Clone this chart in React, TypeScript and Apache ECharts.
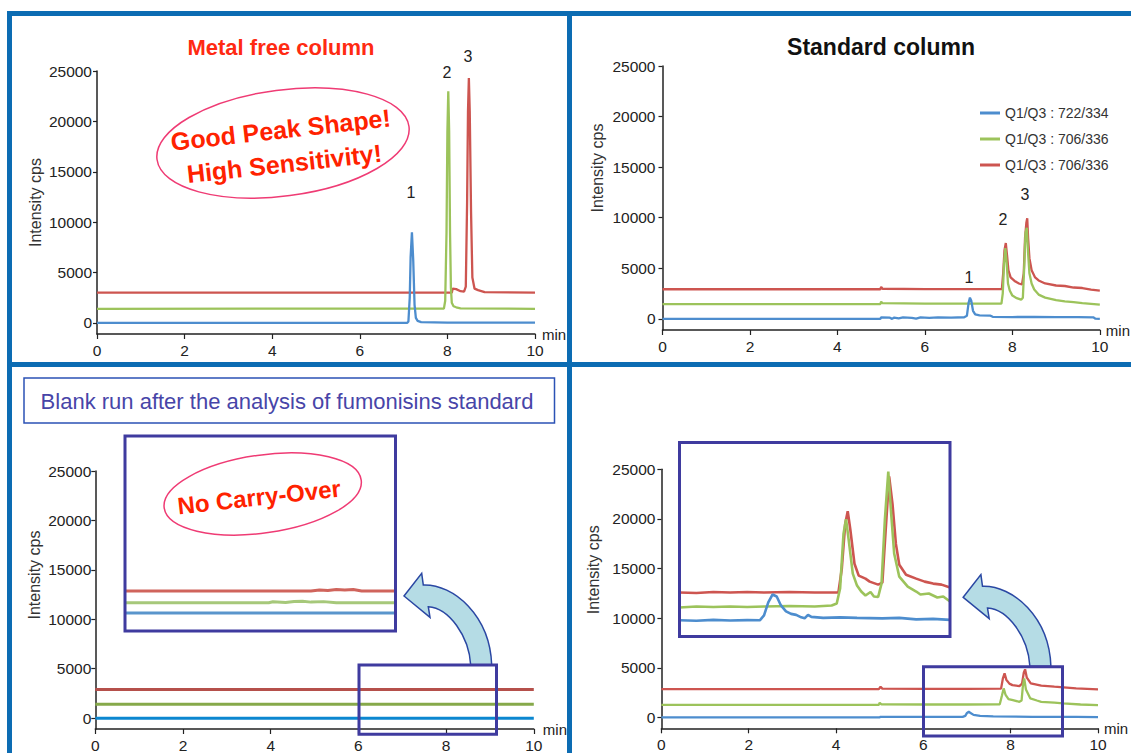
import React, { useEffect, useRef } from "react";
import * as echarts from "echarts";

// ---------- tick / label arrays ----------
const TIME_TICKS = [0, 2, 4, 6, 8, 10];
const INTENSITY_TICKS = [0, 5000, 10000, 15000, 20000, 25000];
const LEGEND_LABELS = ["Q1/Q3 : 722/334", "Q1/Q3 : 706/336", "Q1/Q3 : 706/336"];
const LEGEND_SERIES = ["Standard 1", "Standard 2", "Standard 3"];

// ---------- Metal free column (top-left) ----------
const metalFreeBlue = [[0, 0], [5, 0], [7.08, 0], [7.11, 150], [7.14, 2500], [7.16, 6500], [7.19, 9000], [7.22, 6200], [7.25, 1800], [7.28, 500], [7.32, 200], [7.4, 80], [8, 30], [10, 20]];
const metalFreeGreen = [[0, 1400], [7.92, 1420], [7.95, 2200], [7.98, 9000], [8.0, 19000], [8.02, 23000], [8.04, 19000], [8.06, 9000], [8.08, 3500], [8.1, 2000], [8.14, 1650], [8.2, 1550], [8.3, 1450], [10, 1400]];
const metalFreeRed = [[0, 3000], [8.1, 3000], [8.12, 3400], [8.2, 3350], [8.3, 3150], [8.38, 3100], [8.42, 3600], [8.45, 12000], [8.47, 21000], [8.49, 24300], [8.51, 21000], [8.54, 11000], [8.57, 4500], [8.62, 3400], [8.7, 3250], [8.85, 3050], [10, 3000]];

// ---------- Standard column (top-right) ----------
const standardBlue = [[0, 0], [4.98, 0], [5.0, 150], [5.2, 120], [5.25, 0], [5.3, 130], [5.4, 60], [5.5, 150], [5.7, 100], [5.8, 20], [5.9, 140], [6.1, 100], [6.3, 150], [6.6, 130], [6.9, 160], [6.96, 300], [7.0, 1600], [7.03, 2100], [7.06, 1800], [7.1, 800], [7.15, 450], [7.25, 350], [7.5, 320], [7.55, 200], [8, 180], [8.5, 200], [9, 180], [9.5, 170], [9.85, 150], [9.9, 20], [10, 0]];
const standardGreen = [[0, 1450], [4.98, 1450], [5.0, 1700], [5.03, 1550], [6, 1500], [7, 1500], [7.75, 1500], [7.78, 2500], [7.81, 5500], [7.84, 7000], [7.87, 5500], [7.9, 3500], [7.94, 2800], [8.0, 2300], [8.1, 2050], [8.2, 1900], [8.24, 2100], [8.27, 5000], [8.3, 8500], [8.33, 9000], [8.36, 6500], [8.39, 4500], [8.44, 3500], [8.5, 2900], [8.6, 2400], [8.75, 2100], [9.0, 1850], [9.2, 1720], [9.4, 1650], [9.6, 1560], [9.8, 1480], [10, 1400]];
const standardRed = [[0, 2930], [4.98, 2930], [5.0, 3150], [5.03, 2980], [6, 2950], [7, 2950], [7.76, 2950], [7.79, 4500], [7.82, 6800], [7.85, 7500], [7.88, 6200], [7.91, 4800], [7.96, 4100], [8.05, 3750], [8.15, 3500], [8.22, 3400], [8.26, 4500], [8.29, 8000], [8.32, 9500], [8.34, 9950], [8.36, 8000], [8.39, 6000], [8.44, 4800], [8.52, 4100], [8.6, 3800], [8.75, 3500], [9.0, 3300], [9.2, 3250], [9.4, 3100], [9.6, 3050], [9.8, 2900], [10, 2800]];

// ---------- Blank run, metal free (bottom-left) ----------
const blankBlue = [[0, 0], [10, 0]];
const blankGreen = [[0, 1400], [10, 1400]];
const blankRed = [[0, 2900], [10, 2900]];
const blankInsetBlue = [[6, 10690], [9.2, 10690]];
const blankInsetGreen = [[6, 11730], [7.7, 11730], [7.75, 11830], [7.9, 11760], [8.0, 11850], [8.1, 11880], [8.2, 11790], [8.35, 11840], [8.5, 11730], [9.2, 11730]];
const blankInsetRed = [[6, 12910], [8.2, 12910], [8.3, 13010], [8.4, 12960], [8.5, 13060], [8.6, 13010], [8.7, 13060], [8.8, 12910], [9.2, 12910]];

// ---------- Blank run, standard column (bottom-right) ----------
const blankStdBlue = [[0, 0], [5, 0], [5.02, 60], [6.9, 50], [6.96, 150], [7.0, 450], [7.04, 560], [7.08, 450], [7.15, 250], [7.3, 150], [7.6, 100], [8.5, 60], [9.5, 50], [10, 30]];
const blankStdGreen = [[0, 1270], [4.98, 1270], [5.0, 1470], [5.04, 1320], [6, 1300], [7, 1300], [7.75, 1320], [7.8, 2200], [7.84, 2920], [7.88, 2300], [7.95, 1850], [8.05, 1740], [8.2, 1570], [8.25, 1700], [8.28, 3200], [8.31, 3930], [8.35, 2800], [8.45, 1910], [8.6, 1700], [8.7, 1570], [9.0, 1480], [9.2, 1410], [9.6, 1300], [10, 1240]];
const blankStdRed = [[0, 2850], [4.98, 2850], [5.02, 3090], [5.06, 2900], [6, 2880], [7, 2880], [7.78, 2900], [7.82, 3900], [7.86, 4430], [7.9, 3800], [7.97, 3400], [8.04, 3250], [8.2, 3150], [8.26, 3400], [8.3, 4500], [8.33, 4840], [8.37, 4000], [8.46, 3430], [8.7, 3200], [9.0, 3090], [9.5, 2920], [10, 2820]];
const blankStdInsetBlue = [[6, 9800], [6.2, 9750], [6.4, 9850], [6.6, 9780], [6.8, 9820], [6.95, 9800], [7.0, 10300], [7.05, 11600], [7.1, 12400], [7.15, 12200], [7.2, 11300], [7.26, 10700], [7.32, 10450], [7.38, 10350], [7.44, 10100], [7.48, 10000], [7.52, 10350], [7.56, 10150], [7.7, 10050], [7.9, 10100], [8.1, 10050], [8.4, 10000], [8.6, 10050], [8.8, 9900], [9.0, 9950], [9.2, 9850]];
const blankStdInsetGreen = [[6, 11100], [6.2, 11200], [6.4, 11150], [6.6, 11200], [6.8, 11150], [7.0, 11200], [7.3, 11250], [7.6, 11200], [7.8, 11300], [7.86, 11500], [7.9, 13000], [7.94, 18500], [7.97, 20000], [8.0, 18000], [8.05, 14500], [8.1, 13300], [8.15, 12700], [8.2, 12300], [8.26, 12650], [8.3, 12200], [8.35, 12150], [8.39, 13500], [8.43, 20000], [8.47, 24800], [8.5, 21000], [8.54, 16500], [8.6, 14200], [8.7, 13200], [8.8, 12700], [8.85, 12400], [8.95, 12500], [9.05, 12100], [9.12, 12200], [9.2, 11700]];
const blankStdInsetRed = [[6, 12600], [6.2, 12550], [6.4, 12650], [6.6, 12600], [6.8, 12650], [7.0, 12600], [7.3, 12650], [7.6, 12600], [7.88, 12600], [7.92, 15000], [7.96, 19500], [7.99, 20800], [8.02, 19000], [8.07, 15500], [8.12, 14300], [8.2, 14000], [8.25, 13700], [8.35, 13400], [8.4, 13600], [8.44, 19000], [8.48, 24300], [8.52, 21500], [8.56, 17500], [8.6, 15400], [8.68, 14400], [8.8, 14000], [8.9, 13700], [9.0, 13500], [9.1, 13400], [9.2, 13100]];

// ---------- styling ----------
const FONT = '"Liberation Sans", Arial, sans-serif';
const BLUE = "#4d8dce";
const GREEN = "#9cc35b";
const RED = "#cd5550";
const BORDER = "#0c6cb3";
const INDIGO = "#3f3b9f";

const ARROW_PATH =
  "M0 0 L17.7 -22.7 L19.3 -11 C50 -12 86 20 87.7 69 L66.7 69 C65 40 45 12 24.3 10.7 L26 21.3 Z";
echarts.graphic.registerShape("curvedArrow", echarts.graphic.extendPath(ARROW_PATH, {}));

const plain = (v: number) => String(v);

function mainX(gridIndex: number, nameGap: number, nameShift: number) {
  return {
    type: "value",
    gridIndex,
    min: 0,
    max: 10,
    interval: 2,
    name: "min",
    nameLocation: "end",
    nameGap,
    nameTextStyle: { fontSize: 15, fontFamily: FONT, color: "#222", padding: [nameShift * 2, 0, 0, 0], verticalAlign: "middle" },
    axisLine: { show: true, onZero: false, lineStyle: { color: "#222", width: 1.5 } },
    axisTick: { show: true, length: 5, lineStyle: { color: "#222", width: 1.2 }, customValues: TIME_TICKS },
    axisLabel: { fontSize: 15.5, fontFamily: FONT, color: "#222", margin: 8, customValues: TIME_TICKS, formatter: plain },
    splitLine: { show: false },
  };
}

function mainY(gridIndex: number, labelMargin: number, nameGap: number, nameUp: number) {
  return {
    type: "value",
    gridIndex,
    min: -1100,
    max: 25000,
    name: "Intensity cps",
    nameLocation: "middle",
    nameGap,
    nameTextStyle: { fontSize: 16, fontFamily: FONT, color: "#333", padding: [0, 0, 0, nameUp * 2] },
    axisLine: { show: true, lineStyle: { color: "#222", width: 1.5 } },
    axisTick: { show: true, length: 4, lineStyle: { color: "#222", width: 1.2 }, customValues: INTENSITY_TICKS },
    axisLabel: { fontSize: 15.5, fontFamily: FONT, color: "#222", margin: labelMargin, customValues: INTENSITY_TICKS, formatter: plain },
    splitLine: { show: false },
  };
}

function insetX(gridIndex: number) {
  return { type: "value", gridIndex, min: 6, max: 9.2, show: false };
}
function insetY(gridIndex: number, min: number, max: number) {
  return { type: "value", gridIndex, min, max, show: false };
}

function line(name: string, data: number[][], color: string, width: number, axis: number) {
  return {
    type: "line",
    name,
    data,
    xAxisIndex: axis,
    yAxisIndex: axis,
    showSymbol: false,
    symbol: "none",
    silent: true,
    lineStyle: { color, width },
    itemStyle: { color },
  };
}

function txt(text: string, x: number, y: number, size: number, color: string, weight = "normal", rotation = 0) {
  return {
    type: "text",
    x,
    y,
    rotation,
    z: 100,
    style: { text, fill: color, fontSize: size, fontFamily: FONT, fontWeight: weight, align: "center", verticalAlign: "middle" },
  };
}

function rect(x: number, y: number, w: number, h: number, stroke: string, lw: number) {
  return { type: "rect", z: 100, shape: { x, y, width: w, height: h }, style: { fill: "none", stroke, lineWidth: lw } };
}

function border(x1: number, y1: number, x2: number, y2: number) {
  return { type: "line", z: 110, shape: { x1, y1, x2, y2 }, style: { stroke: BORDER, lineWidth: 5 } };
}

export default function App() {
  const ref = useRef<HTMLDivElement>(null);

  useEffect(() => {
    document.body.style.margin = "0";
    const chart = echarts.init(ref.current!, null, { renderer: "svg" });

    const option = {
      animation: false,
      backgroundColor: "#ffffff",
      textStyle: { fontFamily: FONT },
      grid: [
        { left: 97, top: 71, width: 438, height: 263 },
        { left: 662.5, top: 66, width: 437.5, height: 264 },
        { left: 95.3, top: 471, width: 438.5, height: 259 },
        { left: 661.4, top: 469.3, width: 436.6, height: 259 },
        { left: 125, top: 436, width: 270.5, height: 195 },
        { left: 679.5, top: 442.5, width: 270.5, height: 194 },
      ],
      xAxis: [mainX(0, 7, 6), mainX(1, 6, 3), mainX(2, 9, 5), mainX(3, 6, 3), insetX(4), insetX(5)],
      yAxis: [
        mainY(0, 5, 54, 0),
        mainY(1, 7, 57, 30),
        mainY(2, 4, 53, 25),
        mainY(3, 6, 60, 29),
        insetY(4, 8880, 28530),
        insetY(5, 8170, 27720),
      ],
      legend: {
        data: LEGEND_SERIES,
        left: 975,
        top: 100,
        orient: "vertical",
        icon: "rect",
        itemWidth: 20,
        itemHeight: 3,
        itemGap: 10,
        selectedMode: false,
        formatter: (n: string) => LEGEND_LABELS[LEGEND_SERIES.indexOf(n)],
        textStyle: { fontSize: 14, fontFamily: FONT, color: "#333", lineHeight: 16 },
      },
      series: [
        line("Metal free red", metalFreeRed, RED, 2.3, 0),
        line("Metal free green", metalFreeGreen, GREEN, 2.3, 0),
        line("Metal free blue", metalFreeBlue, BLUE, 2.3, 0),
        line(LEGEND_SERIES[2], standardRed, RED, 2.3, 1),
        line(LEGEND_SERIES[1], standardGreen, GREEN, 2.3, 1),
        line(LEGEND_SERIES[0], standardBlue, BLUE, 2.3, 1),
        line("Blank red", blankRed, "#b5504b", 3, 2),
        line("Blank green", blankGreen, "#86a94a", 3, 2),
        line("Blank blue", blankBlue, "#0b87d0", 3, 2),
        line("Blank std red", blankStdRed, RED, 2.3, 3),
        line("Blank std green", blankStdGreen, GREEN, 2.3, 3),
        line("Blank std blue", blankStdBlue, BLUE, 2.3, 3),
        line("Blank inset red", blankInsetRed, "#d0645c", 3, 4),
        line("Blank inset green", blankInsetGreen, "#a6c87a", 3, 4),
        line("Blank inset blue", blankInsetBlue, "#5a95cc", 3, 4),
        line("Blank std inset red", blankStdInsetRed, RED, 2.6, 5),
        line("Blank std inset green", blankStdInsetGreen, GREEN, 2.6, 5),
        line("Blank std inset blue", blankStdInsetBlue, BLUE, 2.6, 5),
      ],
      graphic: [
        // panel titles
        txt("Metal free column", 281, 47, 22, "#ff2a12", "bold"),
        txt("Standard column", 881, 47, 23, "#111111", "bold"),
        // peak numbers
        txt("1", 411, 192, 16, "#222"),
        txt("2", 447, 72, 16, "#222"),
        txt("3", 468, 56, 16, "#222"),
        txt("1", 969, 277, 16, "#222"),
        txt("2", 1003, 219, 16, "#222"),
        txt("3", 1025, 194, 16, "#222"),
        // callout ellipse, top-left
        {
          type: "ellipse",
          x: 283,
          y: 143,
          rotation: 0.13,
          z: 100,
          shape: { cx: 0, cy: 0, rx: 127, ry: 53 },
          style: { fill: "none", stroke: "#ef3b74", lineWidth: 1.5 },
        },
        {
          type: "group",
          x: 282.5,
          y: 146.5,
          rotation: 0.11,
          children: [txt("Good Peak Shape!", 0, -17, 25, "#ff2200", "bold"), txt("High Sensitivity!", 0, 17, 25, "#ff2200", "bold")],
        },
        // blank run caption
        rect(24, 378, 530.5, 45, "#2b52b5", 1.5),
        txt("Blank run after the analysis of fumonisins standard", 287, 401, 22, "#4745a8"),
        // No carry-over callout
        {
          type: "ellipse",
          x: 262.7,
          y: 494,
          rotation: 0.14,
          z: 100,
          shape: { cx: 0, cy: 0, rx: 99.5, ry: 39 },
          style: { fill: "none", stroke: "#ef3b74", lineWidth: 1.5 },
        },
        txt("No Carry-Over", 259, 497, 24, "#ff2200", "bold", 0.11),
        // arrows
        { type: "curvedArrow", x: 404, y: 596, z: 100, style: { fill: "#b5dce5", stroke: "#2a47a3", lineWidth: 1.5 } },
        { type: "curvedArrow", x: 963.2, y: 597.3, z: 100, style: { fill: "#b5dce5", stroke: "#2a47a3", lineWidth: 1.5 } },
        // zoom boxes
        rect(125, 436, 270.5, 195, INDIGO, 3),
        rect(359, 665, 137.5, 69.3, INDIGO, 3),
        rect(679.5, 442.5, 270.5, 194, INDIGO, 3),
        rect(923.5, 666.7, 139, 69.3, INDIGO, 3),
        // panel borders
        border(7, 13.5, 1131, 13.5),
        border(9.5, 11, 9.5, 753),
        border(569.5, 11, 569.5, 753),
        border(7, 364.5, 1131, 364.5),
      ],
    };

    chart.setOption(option as any);
    return () => chart.dispose();
  }, []);

  return <div ref={ref} style={{ width: 1131, height: 753 }} />;
}
